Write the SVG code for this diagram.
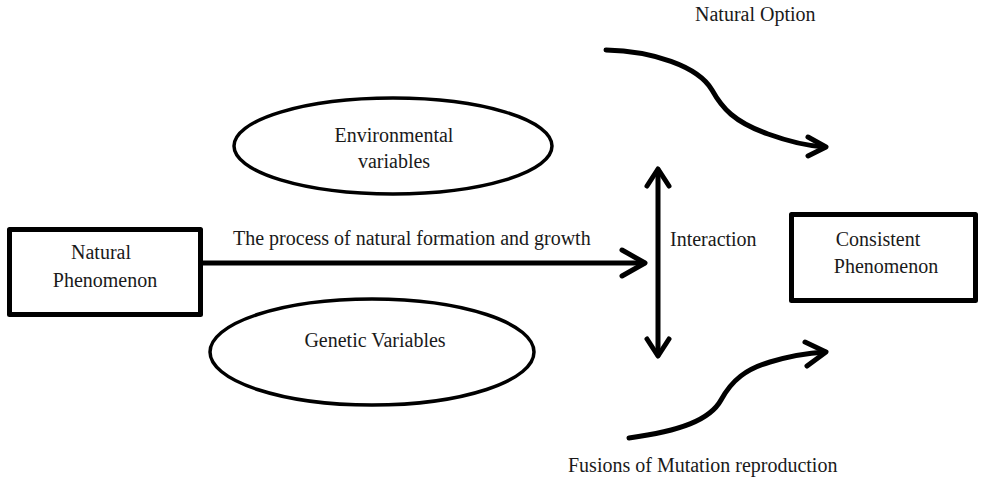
<svg xmlns="http://www.w3.org/2000/svg" width="984" height="480" viewBox="0 0 984 480">
  <style>
    .box { fill: #ffffff; stroke: #000000; stroke-width: 5; stroke-linejoin: round; }
    .oval { fill: #ffffff; stroke: #000000; stroke-width: 3.5; }
    .line { fill: none; stroke: #000000; stroke-width: 5; stroke-linecap: round; stroke-linejoin: round; }
    .label { font-family: "Liberation Serif", "Times New Roman", serif; font-size: 20px; fill: #1a1a1a; }
    .mid { text-anchor: middle; }
  </style>
  <rect width="984" height="480" fill="#ffffff"/>

  <!-- connectors -->
  <g id="connectors">
    <!-- main process arrow -->
    <line class="line" x1="203" y1="263" x2="644" y2="263"/>
    <path class="line" d="M622,250 L645,263 L622,276"/>
    <!-- interaction double arrow -->
    <line class="line" x1="658" y1="170" x2="658" y2="355"/>
    <path class="line" d="M647,186 L658,169 L669,186"/>
    <path class="line" d="M647,339 L658,356 L669,339"/>
    <!-- natural option curve -->
    <path class="line" d="M606,50 C652,51 698,66 712,90 C722,108 734,122 768,134 C790,142 808,146 825,147"/>
    <path class="line" d="M808,137 L826,147 L808,156"/>
    <!-- mutation curve -->
    <path class="line" d="M629,438 C680,431 710,420 721,400 C732,380 746,369 770,362 C790,356 808,353 825,352"/>
    <path class="line" d="M805,342 L826,352 L807,366"/>
    <!-- connector labels -->
    <text class="label" x="233" y="245">The process of natural formation and growth</text>
    <text class="label" x="670" y="246">Interaction</text>
    <text class="label" x="695" y="21">Natural Option</text>
    <text class="label" x="568" y="472">Fusions of Mutation reproduction</text>
  </g>

  <g id="natural-phenomenon">
    <rect class="box" x="9.5" y="229.5" width="191" height="85"/>
    <text class="label mid" x="101" y="259">Natural</text>
    <text class="label mid" x="105" y="287">Phenomenon</text>
  </g>

  <g id="environmental-variables">
    <ellipse class="oval" cx="393" cy="146" rx="159" ry="48"/>
    <text class="label mid" x="394" y="142">Environmental</text>
    <text class="label mid" x="394" y="168">variables</text>
  </g>

  <g id="genetic-variables">
    <ellipse class="oval" cx="372" cy="352" rx="162" ry="53"/>
    <text class="label mid" x="375" y="347">Genetic Variables</text>
  </g>

  <g id="consistent-phenomenon">
    <rect class="box" x="791.5" y="214.5" width="184" height="86"/>
    <text class="label mid" x="878" y="246">Consistent</text>
    <text class="label mid" x="886" y="273">Phenomenon</text>
  </g>
</svg>
